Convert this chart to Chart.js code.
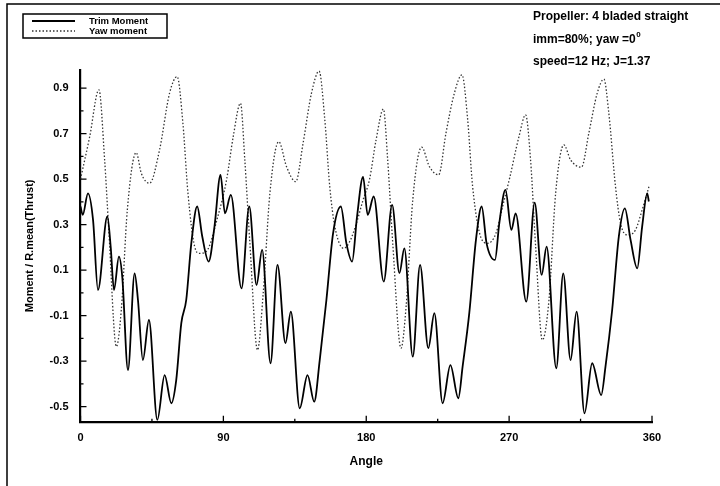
<!DOCTYPE html>
<html><head><meta charset="utf-8">
<script src="https://cdn.jsdelivr.net/npm/chart.js@4.4.0/dist/chart.umd.min.js"></script>
<style>html,body{margin:0;padding:0;background:#fff}#wrap{width:720px;height:486px}</style>
</head><body><div id="wrap"><canvas id="c" width="720" height="486"></canvas></div>
<script>
const seriesLabels = ['Trim Moment', 'Yaw moment'];
const trimAngle = [0,1.4,4.7,7.9,11.0,16.9,19.0,21.1,24.2,26.3,29.9,34.1,36.2,39.3,43.1,48.4,53.0,57.2,60.3,63.5,66.6,69.8,73.5,76.7,80.7,84.4,88.2,91.0,94.7,101.4,106.3,110.9,114.4,119.7,124.1,129.1,132.5,138.1,143.0,147.2,150.7,154.9,159.1,164.0,167.5,171.1,174.2,178.0,180.9,184.7,191.0,196.3,200.9,204.0,209.3,213.9,219.1,222.9,228.1,233.0,238.0,240.7,244.9,249.1,252.7,255.8,261.1,263.8,267.7,271.4,274.1,280.8,286.1,290.5,293.6,299.7,304.1,308.7,312.5,317.5,322.3,328.0,330.7,334.9,339.1,342.9,346.5,350.7,353.8,357.0,358.0];
const trimValue = [0.38,0.343,0.438,0.321,0.013,0.336,0.204,0.013,0.16,0.072,-0.339,0.086,-0.031,-0.295,-0.119,-0.558,-0.361,-0.485,-0.383,-0.133,-0.031,0.218,0.38,0.248,0.138,0.292,0.519,0.35,0.431,0.02,0.38,0.035,0.189,-0.309,0.123,-0.221,-0.082,-0.507,-0.361,-0.478,-0.295,-0.031,0.262,0.38,0.218,0.138,0.336,0.51,0.343,0.424,0.05,0.387,0.087,0.196,-0.28,0.123,-0.243,-0.089,-0.485,-0.317,-0.463,-0.324,-0.089,0.233,0.38,0.218,0.145,0.306,0.453,0.277,0.35,-0.038,0.397,0.079,0.204,-0.331,0.086,-0.295,-0.082,-0.529,-0.309,-0.449,-0.324,-0.075,0.248,0.372,0.233,0.108,0.292,0.438,0.402];
const yawAngle = [0,5.8,11.6,15.2,17.7,22.6,25.7,29.5,35.1,38.3,43.5,49.8,56.1,60.9,64.5,67.7,71.9,75.0,79.2,86.5,92.0,96.2,100.8,103.5,106.7,111.5,115.1,119.3,124.9,129.8,135.6,140.2,145.5,150.3,153.9,157.0,160.2,165.8,169.6,173.8,178.0,182.0,186.2,190.8,193.5,196.7,201.9,205.1,209.3,214.9,219.8,225.6,230.2,235.5,240.3,243.9,247.0,252.9,256.5,261.7,265.9,270.5,276.2,280.4,283.5,286.7,290.9,295.1,299.3,304.5,308.7,315.6,320.2,325.5,329.7,332.8,337.0,340.2,344.4,349.6,353.8,358.4];
const yawValue = [0.5,0.687,0.893,0.585,0.292,-0.236,-0.075,0.365,0.617,0.526,0.482,0.629,0.878,0.951,0.746,0.438,0.204,0.174,0.182,0.336,0.497,0.687,0.834,0.585,0.218,-0.251,-0.001,0.438,0.665,0.555,0.489,0.658,0.878,0.975,0.761,0.468,0.292,0.196,0.226,0.306,0.409,0.497,0.673,0.808,0.585,0.218,-0.243,-0.06,0.409,0.641,0.555,0.519,0.702,0.878,0.959,0.761,0.468,0.233,0.218,0.262,0.38,0.51,0.687,0.783,0.585,0.204,-0.207,-0.031,0.438,0.651,0.585,0.553,0.702,0.878,0.94,0.79,0.468,0.306,0.255,0.277,0.365,0.475];
const xTickValues = [0, 90, 180, 270, 360];
const xMinorTicks = [45, 135, 225, 315];
const yTickValues = [-0.5, -0.3, -0.1, 0.1, 0.3, 0.5, 0.7, 0.9];
const yMinorTicks = [-0.4, -0.2, 0, 0.2, 0.4, 0.6, 0.8];
const noteLines = ['Propeller: 4 bladed straight', 'imm=80%; yaw =0', 'speed=12 Hz; J=1.37'];
const noteSup = '0';
const xTitle = 'Angle';
const yTitle = 'Moment / R.mean(Thrust)';

const FONT = '"Liberation Sans", Arial, sans-serif';

const decor = {
  id: 'decor',
  afterDraw(chart) {
    const ctx = chart.ctx;
    const xs = chart.scales.x, ys = chart.scales.y;
    ctx.save();
    ctx.strokeStyle = '#000';
    ctx.lineWidth = 1.3;
    ctx.beginPath();
    xTickValues.forEach(v => { const p = xs.getPixelForValue(v); ctx.moveTo(p, xs.top); ctx.lineTo(p, xs.top - 6); });
    xMinorTicks.forEach(v => { const p = xs.getPixelForValue(v); ctx.moveTo(p, xs.top); ctx.lineTo(p, xs.top - 3); });
    yTickValues.forEach(v => { const p = ys.getPixelForValue(v); ctx.moveTo(ys.right, p); ctx.lineTo(ys.right + 6, p); });
    yMinorTicks.forEach(v => { const p = ys.getPixelForValue(v); ctx.moveTo(ys.right, p); ctx.lineTo(ys.right + 3, p); });
    ctx.stroke();
    ctx.lineWidth = 1.5;
    ctx.beginPath();
    ctx.moveTo(7, 486); ctx.lineTo(7, 4); ctx.lineTo(720, 4);
    ctx.stroke();
    const ds = chart.data.datasets;
    ctx.lineWidth = 1.5;
    ctx.strokeRect(23, 14, 144, 24);
    ctx.font = 'bold 9.5px ' + FONT;
    ctx.textBaseline = 'middle';
    ctx.textAlign = 'left';
    ctx.fillStyle = '#000';
    [[0, 21], [1, 31]].forEach(([i, y]) => {
      ctx.save();
      ctx.strokeStyle = ds[i].borderColor;
      ctx.lineWidth = ds[i].borderWidth;
      ctx.setLineDash(ds[i].borderDash || []);
      ctx.beginPath(); ctx.moveTo(32, y); ctx.lineTo(75, y); ctx.stroke();
      ctx.restore();
      ctx.fillText(ds[i].label, 89, y);
    });
    ctx.font = 'bold 12px ' + FONT;
    ctx.fillText(noteLines[0], 533, 17);
    ctx.fillText(noteLines[1], 533, 40);
    const w = ctx.measureText(noteLines[1]).width;
    ctx.font = 'bold 8px ' + FONT;
    ctx.fillText(noteSup, 533 + w + 0.5, 35);
    ctx.font = 'bold 12px ' + FONT;
    ctx.fillText(noteLines[2], 533, 62);
    ctx.restore();
  }
};

new Chart(document.getElementById('c'), {
  type: 'line',
  data: {
    datasets: [
      { label: seriesLabels[0], data: trimAngle.map((a, i) => ({ x: a, y: trimValue[i] })),
        borderColor: '#000', borderWidth: 1.8, pointRadius: 0, cubicInterpolationMode: 'monotone', fill: false },
      { label: seriesLabels[1], data: yawAngle.map((a, i) => ({ x: a, y: yawValue[i] })),
        borderColor: '#333', borderWidth: 1.3, borderDash: [1.5, 2], pointRadius: 0, cubicInterpolationMode: 'monotone', fill: false }
    ]
  },
  options: {
    responsive: false, animation: false, devicePixelRatio: 1,
    layout: { padding: { left: 0, top: 70, right: 68, bottom: 0 } },
    plugins: { legend: { display: false }, tooltip: { enabled: false } },
    scales: {
      x: {
        type: 'linear', min: 0, max: 360,
        afterBuildTicks: s => { s.ticks = xTickValues.map(v => ({ value: v })); },
        afterFit: s => { s.height = 64.3; },
        grid: { display: true, drawOnChartArea: false, drawTicks: false, color: 'rgba(0,0,0,0)' },
        border: { display: true, color: '#000', width: 2.2 },
        ticks: { padding: 10, color: '#000', font: { family: FONT, size: 11, weight: 'bold' }, maxRotation: 0, callback: v => String(v) },
        title: { display: true, text: xTitle, color: '#000', font: { family: FONT, size: 12, weight: 'bold' }, padding: { top: 4, bottom: 17 } }
      },
      y: {
        type: 'linear', min: -0.566, max: 0.98,
        afterBuildTicks: s => { s.ticks = yTickValues.map(v => ({ value: v })); },
        afterFit: s => { s.width = 80.5; },
        grid: { display: true, drawOnChartArea: false, drawTicks: false, color: 'rgba(0,0,0,0)' },
        border: { display: true, color: '#000', width: 2.2 },
        ticks: { padding: 12, color: '#000', font: { family: FONT, size: 11, weight: 'bold' }, callback: v => (Math.round(v * 10) / 10).toFixed(1) },
        title: { display: true, text: yTitle, color: '#000', font: { family: FONT, size: 11, weight: 'bold' }, padding: { top: 23, bottom: 0 } }
      }
    }
  },
  plugins: [decor]
});
</script>
</body></html>
